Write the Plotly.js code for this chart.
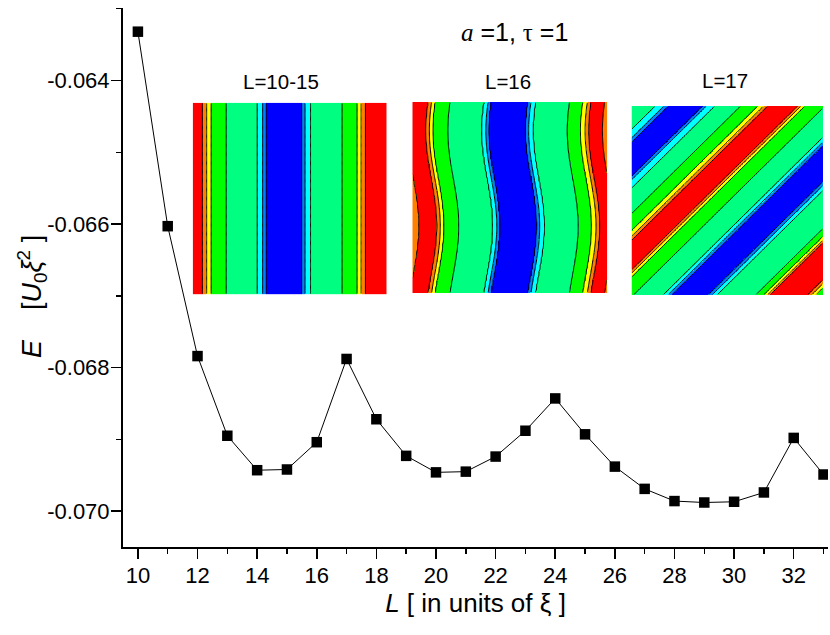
<!DOCTYPE html>
<html><head><meta charset="utf-8">
<script src="https://cdn.plot.ly/plotly-3.0.1.min.js"></script>
<style>body{margin:0;background:#fff}</style>
</head><body><div id="chart" style="width:830px;height:635px"></div>
<script>
// ---- main data ----
const L = [10,11,12,13,14,15,16,17,18,19,20,21,22,23,24,25,26,27,28,29,30,31,32,33];
const E = [-0.06332,-0.06603,-0.06784,-0.06895,-0.06943,-0.06942,-0.06904,-0.06788,
           -0.06872,-0.06923,-0.06946,-0.06945,-0.06924,-0.06888,-0.06843,-0.06893,
           -0.06938,-0.06969,-0.06986,-0.06988,-0.06987,-0.06974,-0.06898,-0.06949];
const xTickVals = [10,12,14,16,18,20,22,24,26,28,30,32];
const yTickVals = [-0.064,-0.066,-0.068,-0.070];
const yTickText = ['-0.064','-0.066','-0.068','-0.070'];
const insetLabels = ['L=10-15','L=16','L=17'];
const yTitle = '<i>E</i>\u00a0\u00a0\u00a0 [<i>U</i><sub>0</sub><i>ξ</i><sup>2</sup> ]';

// ---- inset stripe patterns: colour bands and profile nodes (band k = levels [k,k+1)) ----
const bandColors = ['#0000ff','#0080ff','#00ffff','#00ff80','#00ff00','#ffff00','#ff8000','#ff0000'];
const prof1Pos = [0,0.050,0.072,0.093,0.172,0.333,0.361,0.378,0.470,0.562,0.579,0.605,0.771,0.849,0.868,0.888,1.0];
const prof1Val = [7.9,7,6,5,4,3,2,1,0.2,1,2,3,4,5,6,7,7.9];
const prof2Pos = [-0.12,-0.01,0.04,0.082,0.099,0.116,0.193,0.369,0.389,0.403,0.498,0.594,0.608,0.631,0.807,0.875,0.898,0.915,0.952,0.986,1.0,1.12];
const prof2Val = [6.7,7,7.6,7,6,5,4,3,2,1,0.2,1,2,3,4,5,6,7,7.6,7,6.85,6.6];
const prof3Pos = [0,0.125,0.17,0.19,0.28,0.374,0.39,0.435,0.57,0.66,0.69,0.71,0.79,0.87,0.885,0.905,1.01,1.165,1.19,1.207,1.30,1.40,1.42,1.445,1.65,1.69,1.71,1.72,1.82,1.92,1.94,1.96,2.0];
const prof3Val = [3.5,3,2,1,0.2,1,2,3,4,5,6,7,7.7,7,6,5,4,3,2,1,0.2,1,2,3,4,5,6,7,7.7,7,6,5,4.5];
const waveAmp = 0.028;

function interp(pos, val, s){
  if (s <= pos[0]) return val[0];
  for (let i=1;i<pos.length;i++){
    if (s <= pos[i]) { const t=(s-pos[i-1])/(pos[i]-pos[i-1]); return val[i-1]+t*(val[i]-val[i-1]); }
  }
  return val[val.length-1];
}
const N = 170;
const grid = Array.from({length:N},(_,i)=>(i+0.5)/N);
function field(kind, x, y){
  if (kind===0) return interp(prof1Pos, prof1Val, x);
  if (kind===1){ const t=1-y; const s=waveAmp*(Math.sin(2*Math.PI*(t-0.4))+0.588); return interp(prof2Pos, prof2Val, x-s); }
  return interp(prof3Pos, prof3Val, x+(1-y));
}
const stepScale = [];
bandColors.forEach((c,k)=>{ stepScale.push([k/8,c]); stepScale.push([(k+1)/8,c]); });

// layout geometry helpers
const W=830,H=635,ml=123,mr=2,mt=8,mb=88;
const pw=W-ml-mr, ph=H-mt-mb;
const dx=(a,b)=>[(a-ml)/pw,(b-ml)/pw];
const dy=(top,bot)=>[(H-mb-bot)/ph,(H-mb-top)/ph];
const insetBoxes = [
  {x:dx(192.7,386.7), y:dy(102.7,294.3), lx:281, ly:82},
  {x:dx(412.3,607.3), y:dy(102,293), lx:508, ly:82},
  {x:dx(631.5,823), y:dy(106,295), lx:725, ly:80}
];

const traces = [{
  x:L, y:E, type:'scatter', mode:'lines+markers',
  line:{color:'#000',width:1},
  marker:{symbol:'square',size:10.5,color:'#000'},
  hoverinfo:'x+y', showlegend:false
}];
const layout = {
  width:W, height:H, margin:{l:ml,r:mr,t:mt,b:mb},
  paper_bgcolor:'#fff', plot_bgcolor:'#fff', showlegend:false,
  font:{family:'Liberation Sans, Arial, sans-serif', color:'#000'},
  xaxis:{range:[9.5,33.15], tickvals:xTickVals, ticks:'outside', ticklen:10, tickwidth:1.5,
    tickcolor:'#000', showline:true, linewidth:2, linecolor:'#000', showgrid:false, zeroline:false,
    tickfont:{size:22}, ticklabelstandoff:-2,
    minor:{dtick:1, tick0:10, ticks:'outside', ticklen:5, tickwidth:1.5, tickcolor:'#000', showgrid:false},
    title:{text:'<i>L</i> [ in units of ξ ]', font:{size:26}, standoff:3}},
  yaxis:{range:[-0.0705,-0.06299], tickvals:yTickVals, ticktext:yTickText, ticks:'outside', ticklen:10, tickwidth:1.5,
    tickcolor:'#000', showline:true, linewidth:2, linecolor:'#000', showgrid:false, zeroline:false,
    tickfont:{size:22}, ticklabelstandoff:-3,
    minor:{dtick:0.001, tick0:-0.064, ticks:'outside', ticklen:5, tickwidth:1.5, tickcolor:'#000', showgrid:false}},
  annotations:[
    {xref:'paper',yref:'paper', x:(514-ml)/pw, y:(H-mb-32)/ph, xanchor:'center', yanchor:'middle',
     showarrow:false, font:{size:25},
     text:'<span style="font-family:Liberation Serif"><i>a</i></span> =1, <span style="font-family:Liberation Serif">τ</span> =1'},
    {xref:'paper',yref:'paper', x:(32-ml)/pw, y:(H-mb-297)/ph, xanchor:'center', yanchor:'middle',
     showarrow:false, textangle:-90, font:{size:27}, text:yTitle}
  ]
};

insetBoxes.forEach((b,k)=>{
  const xa='x'+(k+2), ya='y'+(k+2);
  const fz = grid.map(yv=>grid.map(xv=>field(k,xv,yv)));
  const bz = fz.map(r=>r.map(v=>Math.max(0,Math.min(7,Math.floor(v)))));
  traces.push({type:'heatmap', x:grid, y:grid, z:bz, xaxis:xa, yaxis:ya, zmin:-0.5, zmax:7.5,
    colorscale:stepScale, showscale:false, hoverinfo:'skip', zsmooth:false});
  traces.push({type:'contour', x:grid, y:grid, z:fz, xaxis:xa, yaxis:ya, showscale:false, hoverinfo:'skip',
    autocontour:false, contours:{start:1,end:7,size:1,coloring:'none'}, line:{color:'#000',width:1}});
  layout['xaxis'+(k+2)] = {domain:b.x, anchor:ya, range:[0,1], visible:false, fixedrange:true};
  layout['yaxis'+(k+2)] = {domain:b.y, anchor:xa, range:[0,1], visible:false, fixedrange:true};
  layout.annotations.push({xref:'paper',yref:'paper', x:(b.lx-ml)/pw, y:(H-mb-b.ly)/ph,
    xanchor:'center', yanchor:'middle', showarrow:false, font:{size:20.5}, text:insetLabels[k]});
});

Plotly.newPlot('chart', traces, layout, {displayModeBar:false, staticPlot:true});
</script></body></html>
